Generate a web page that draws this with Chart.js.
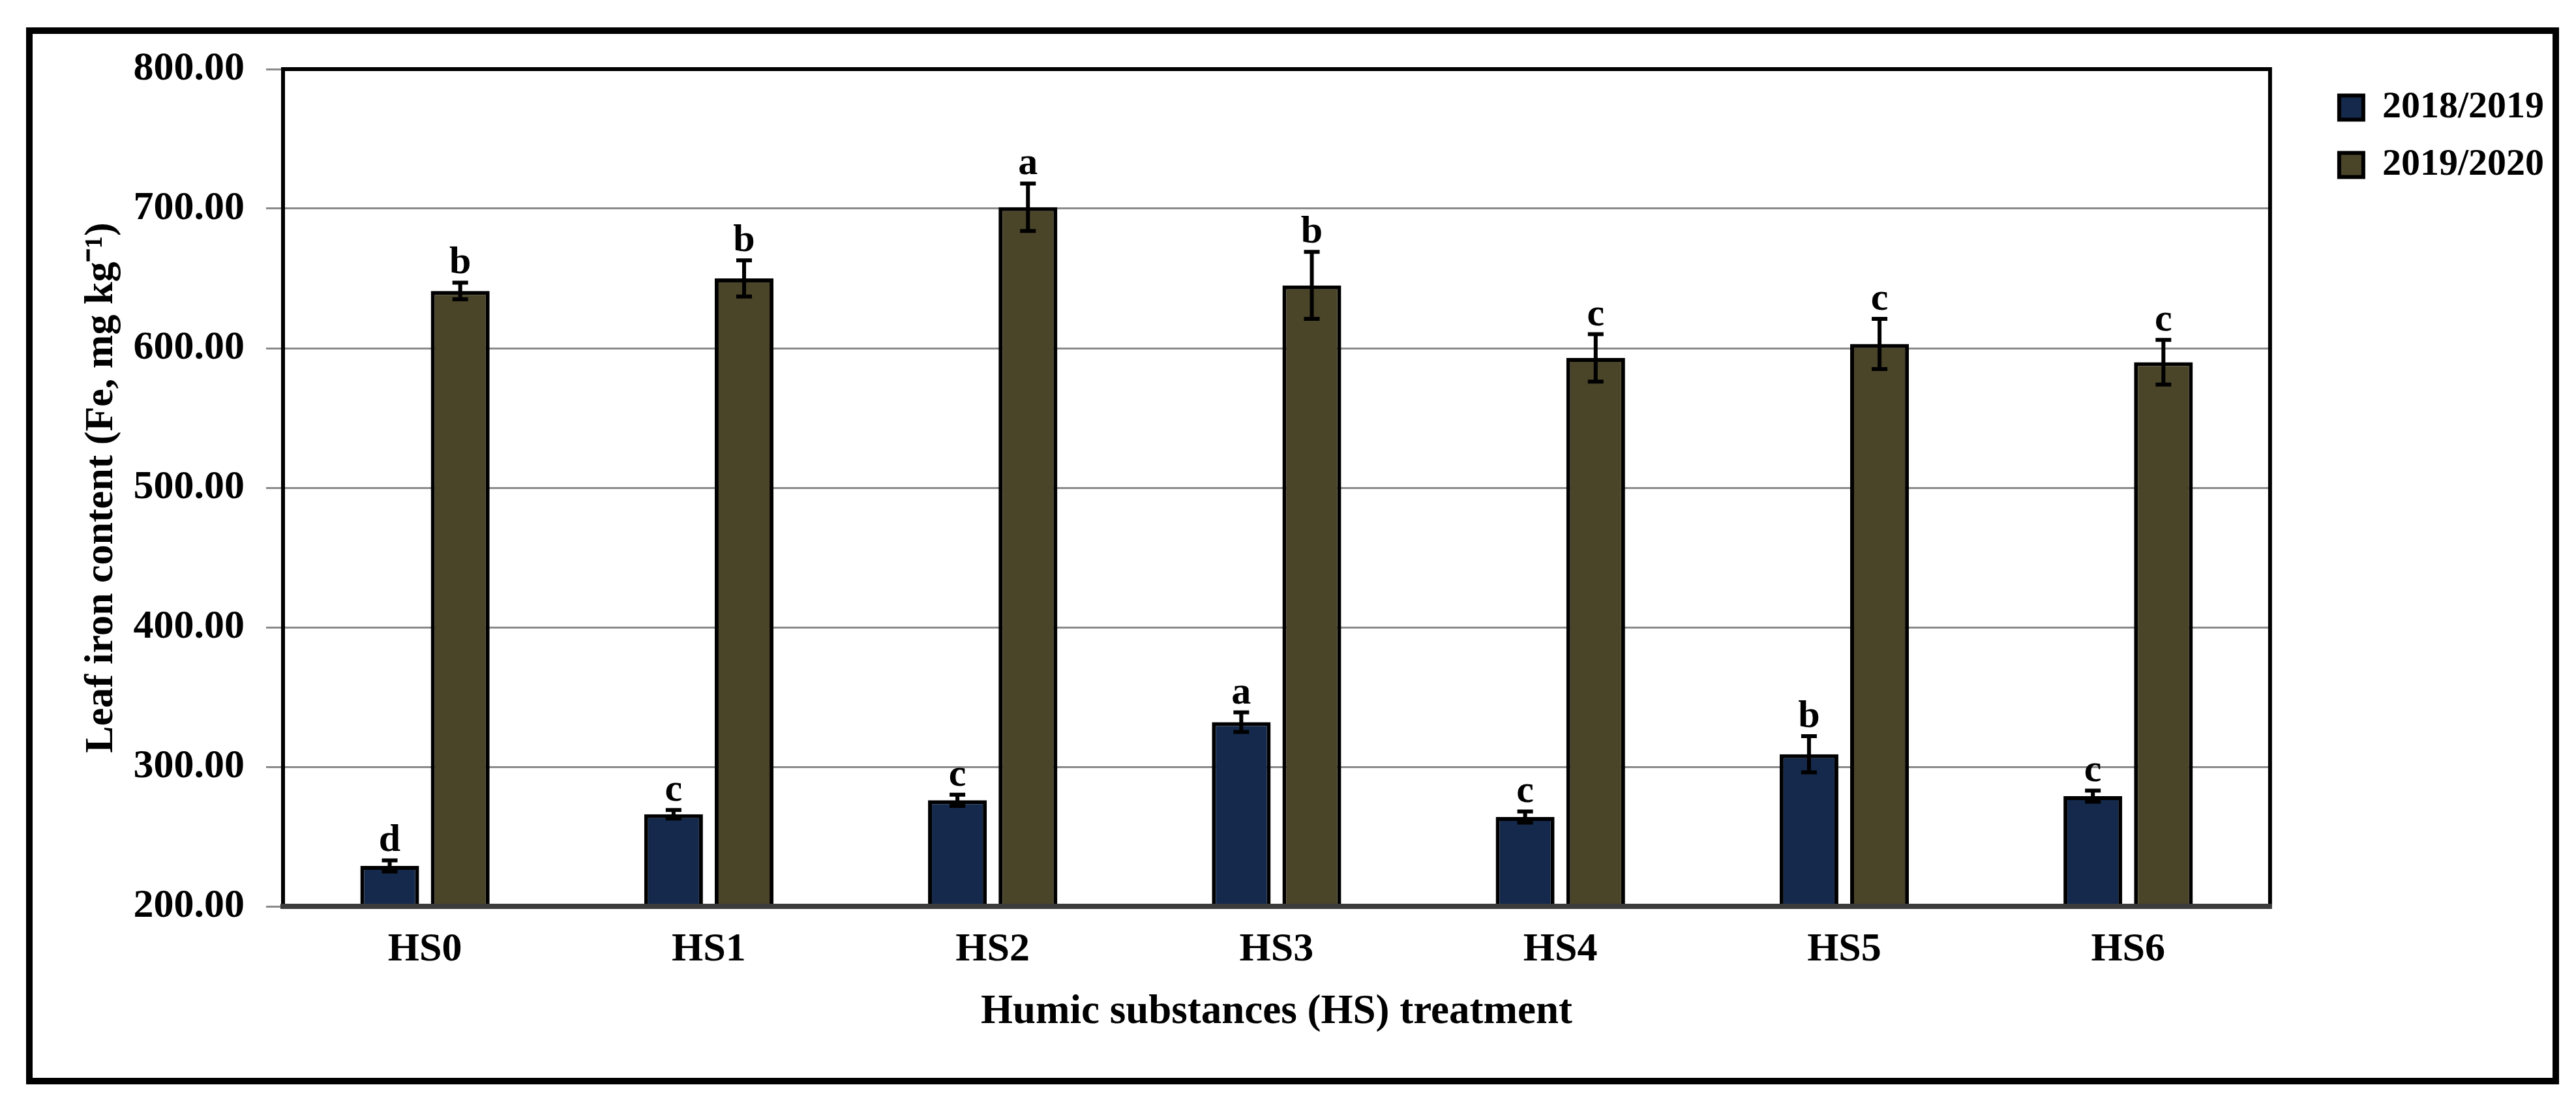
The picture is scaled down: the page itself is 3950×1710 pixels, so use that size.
<!DOCTYPE html>
<html>
<head>
<meta charset="utf-8">
<script src="https://cdn.jsdelivr.net/npm/chart.js@4.4.1/dist/chart.umd.min.js"></script>
<style>
  html, body { margin: 0; padding: 0; background: #fff; }
  #wrap { position: relative; width: 3950px; height: 1710px; }
  #chart { display: block; }
  #frame {
    position: absolute; left: 40px; top: 42px; width: 3884px; height: 1621px;
    box-sizing: border-box; border: 10px solid #000; pointer-events: none;
  }
</style>
</head>
<body>
<div id="wrap">
  <canvas id="chart" width="3950" height="1710"></canvas>
  <div id="frame"></div>
</div>
<script>
// Leaf iron content per humic substances treatment, two seasons

const categories = ['HS0', 'HS1', 'HS2', 'HS3', 'HS4', 'HS5', 'HS6'];

const season1 = [229, 266, 276, 332, 264, 309, 279];
const season1Err = [4, 3, 4, 7, 4, 13, 4];
const season1Letters = ['d', 'c', 'c', 'a', 'c', 'b', 'c'];

const season2 = [641, 650, 701, 645, 593, 603, 590];
const season2Err = [6, 13, 17, 24, 17, 18, 16];
const season2Letters = ['b', 'b', 'a', 'b', 'c', 'c', 'c'];

const yTicks = [200, 300, 400, 500, 600, 700, 800];

const SERIF = '"Liberation Serif", "Times New Roman", serif';

Chart.defaults.font.family = SERIF;
Chart.defaults.font.weight = 'bold';
Chart.defaults.color = '#000';

// error bars + significance letters on top of each bar
const errorBarsPlugin = {
  id: 'errorBars',
  afterDatasetsDraw(chart) {
    const ctx = chart.ctx;
    const y = chart.scales.y;
    chart.data.datasets.forEach((ds, di) => {
      const meta = chart.getDatasetMeta(di);
      meta.data.forEach((bar, i) => {
        const v = ds.data[i];
        const e = ds.errors[i];
        const top = y.getPixelForValue(v + e);
        const bot = y.getPixelForValue(v - e);
        ctx.save();
        ctx.strokeStyle = '#000';
        ctx.lineWidth = 6;
        ctx.beginPath();
        ctx.moveTo(bar.x, top);
        ctx.lineTo(bar.x, bot);
        ctx.moveTo(bar.x - 12, top);
        ctx.lineTo(bar.x + 12, top);
        ctx.moveTo(bar.x - 12, bot);
        ctx.lineTo(bar.x + 12, bot);
        ctx.stroke();
        ctx.font = 'bold 60px ' + SERIF;
        ctx.textAlign = 'center';
        ctx.textBaseline = 'alphabetic';
        ctx.fillStyle = '#000';
        ctx.fillText(ds.letters[i], bar.x, top - 14);
        ctx.restore();
      });
    });
  },
};

// top / right / bottom edges of the plot area
const plotFramePlugin = {
  id: 'plotFrame',
  afterDatasetsDraw(chart) {
    const { ctx, chartArea: a } = chart;
    ctx.save();
    ctx.strokeStyle = '#000';
    ctx.lineWidth = 6;
    ctx.beginPath();
    ctx.moveTo(a.left, a.top);
    ctx.lineTo(a.right, a.top);
    ctx.lineTo(a.right, a.bottom);
    ctx.stroke();
    ctx.strokeStyle = '#3c3c3c';
    ctx.lineWidth = 8;
    ctx.beginPath();
    ctx.moveTo(a.left - 3, a.bottom);
    ctx.lineTo(a.right + 3, a.bottom);
    ctx.stroke();
    ctx.restore();
  },
};

new Chart(document.getElementById('chart'), {
  type: 'bar',
  data: {
    labels: categories,
    datasets: [
      {
        label: '2018/2019',
        data: season1,
        errors: season1Err,
        letters: season1Letters,
        backgroundColor: '#14294b',
        borderColor: '#000',
        borderWidth: 6,
        categoryPercentage: 0.497,
        barPercentage: 0.833,
      },
      {
        label: '2019/2020',
        data: season2,
        errors: season2Err,
        letters: season2Letters,
        backgroundColor: '#4a4429',
        borderColor: '#000',
        borderWidth: 6,
        categoryPercentage: 0.497,
        barPercentage: 0.833,
      },
    ],
  },
  options: {
    responsive: false,
    devicePixelRatio: 1,
    animation: false,
    layout: { padding: { top: 106, right: 39, bottom: 0, left: 0 } },
    plugins: {
      tooltip: { enabled: false },
      legend: {
        position: 'right',
        align: 'start',
        labels: {
          boxWidth: 37,
          boxHeight: 37,
          padding: 30,
          color: '#000',
          font: { size: 58, weight: 'bold' },
        },
      },
    },
    scales: {
      x: {
        grid: { display: false, drawTicks: false },
        border: { display: true, color: '#3c3c3c', width: 8 },
        ticks: { font: { size: 62, weight: 'bold' }, padding: 30 },
        title: {
          display: true,
          text: 'Humic substances (HS) treatment',
          font: { size: 63, weight: 'bold' },
          padding: { top: 0, bottom: 119 },
        },
        afterFit(scale) { scale.height = 320; },
      },
      y: {
        min: 200,
        max: 800,
        afterBuildTicks(scale) { scale.ticks = yTicks.map((v) => ({ value: v })); },
        grid: { color: '#8a8a8a', lineWidth: 3, tickColor: '#8a8a8a', tickLength: 26 },
        border: { display: true, color: '#000', width: 6 },
        ticks: {
          font: { size: 62, weight: 'bold' },
          padding: 33,
          callback: (v) => Number(v).toFixed(2),
        },
        title: {
          display: true,
          text: 'Leaf iron content (Fe, mg kg\u207B\u00B9)',
          font: { size: 62, weight: 'bold' },
          padding: { top: 119, bottom: 0 },
        },
        afterFit(scale) { scale.width = 434; },
      },
      // spacer between plot area and legend
      gap: {
        type: 'linear',
        position: 'right',
        display: true,
        grid: { display: false, drawTicks: false },
        border: { display: false },
        ticks: { display: false },
        afterFit(scale) { scale.width = 76; },
      },
    },
  },
  plugins: [errorBarsPlugin, plotFramePlugin],
});
</script>
</body>
</html>
